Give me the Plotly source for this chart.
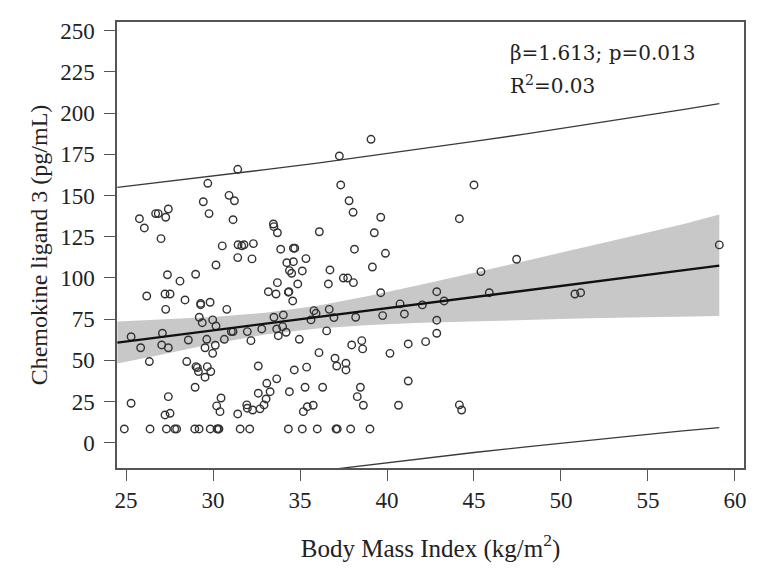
import plotly.graph_objects as go

# ---- data ----
bmi = [
    31.42, 29.70, 30.92, 31.23, 29.44, 29.77, 26.70, 26.85, 27.43, 27.28,
    25.77, 26.05, 31.15, 31.44, 31.78, 27.01, 30.53, 31.65, 32.32, 31.42,
    32.24, 30.17, 27.38, 28.10, 29.00,
    39.08, 37.26, 37.34, 37.82, 38.05, 39.64, 33.47, 33.50, 33.70, 36.11,
    39.27, 33.89, 34.62, 34.70, 35.34, 34.24, 34.62, 34.39, 34.52, 35.13,
    38.13, 39.91, 39.16, 36.72, 37.49, 37.74, 38.07, 33.70, 34.87, 36.63,
    45.00, 44.16, 59.10, 47.45, 45.40,
    42.86, 42.03, 43.28, 45.88, 50.80, 51.13, 42.86, 42.86, 42.22, 44.16, 44.29,
    26.19, 27.24, 27.53, 28.39, 29.29, 29.29, 29.83, 27.28, 30.79, 33.18,
    29.21, 29.38, 29.98, 30.17, 25.29, 27.09, 28.58, 29.64, 25.84, 27.05,
    27.43, 29.54, 30.13, 29.98, 30.65, 31.05, 31.15, 31.97, 32.18, 32.80,
    26.34, 28.49, 29.02, 29.10, 29.16, 29.67, 29.87, 29.54, 32.60, 28.97,
    27.43, 25.29, 30.46, 30.21, 30.40, 27.24, 27.53, 31.42, 31.94, 31.97,
    32.28, 32.60, 32.93, 33.05, 33.09, 32.70, 33.28,
    24.90, 26.38, 27.32, 27.80, 27.91, 28.95, 29.20, 29.84, 30.23, 30.30,
    30.34, 31.56, 32.11,
    33.62, 34.33, 34.36, 34.58, 39.64, 40.75, 41.00, 39.75, 38.20, 36.95,
    36.68, 35.80, 35.92, 35.63, 34.04, 33.50, 33.66, 34.00, 33.75, 34.20,
    34.96, 36.53, 36.09, 37.97, 38.55, 38.60, 40.17, 41.22, 37.01, 37.11,
    37.64, 37.64, 34.67, 35.38, 33.66, 34.39, 35.29, 36.30, 38.47, 41.22,
    38.29, 38.64, 40.66, 35.19, 35.42, 35.76,
    34.33, 35.13, 35.99, 37.07, 37.14, 37.91, 39.02,
]
ccl3 = [
    165.9, 157.4, 150.1, 146.8, 146.2, 139.0, 139.0, 139.0, 141.8, 136.8,
    135.9, 130.3, 135.3, 120.1, 120.1, 123.8, 119.4, 119.4, 120.8, 112.3,
    111.5, 107.8, 101.9, 98.0, 102.2,
    184.1, 174.0, 156.4, 146.8, 139.8, 136.8, 132.7, 131.1, 127.4, 128.0,
    127.4, 117.4, 118.0, 118.0, 111.7, 109.2, 109.8, 104.4, 102.8, 104.2,
    117.4, 114.9, 106.6, 104.8, 99.9, 99.9, 97.1, 97.1, 96.3, 96.3,
    156.4, 135.9, 120.0, 111.3, 103.8,
    91.6, 83.6, 86.0, 91.0, 90.2, 91.0, 74.3, 66.4, 61.3, 22.9, 19.8,
    89.0, 90.2, 90.2, 86.6, 83.7, 84.5, 85.2, 80.9, 80.9, 91.6,
    76.1, 72.8, 74.5, 70.8, 64.3, 66.4, 62.3, 62.7, 57.6, 59.3,
    57.6, 57.6, 59.1, 54.2, 62.7, 67.4, 67.4, 67.4, 61.9, 69.0,
    49.2, 49.2, 46.1, 45.5, 43.1, 46.1, 43.1, 39.7, 46.5, 33.6,
    27.9, 23.9, 27.1, 22.3, 18.8, 16.8, 17.8, 17.4, 22.9, 20.9,
    19.8, 30.0, 22.9, 26.5, 36.0, 20.5, 30.9,
    8.3, 8.3, 8.3, 8.3, 8.3, 8.3, 8.3, 8.3, 8.3, 8.3,
    8.3, 8.3, 8.3,
    90.2, 91.3, 91.6, 86.0, 91.0, 84.2, 78.1, 77.1, 76.1, 75.9,
    80.9, 80.1, 78.5, 74.5, 77.5, 76.1, 69.0, 70.4, 64.9, 67.0,
    62.7, 67.8, 54.6, 59.3, 61.9, 56.9, 54.2, 59.9, 51.2, 46.5,
    48.2, 44.1, 44.1, 45.8, 38.7, 30.9, 33.6, 33.6, 33.6, 37.4,
    27.9, 22.7, 22.7, 18.8, 21.8, 22.7,
    8.3, 8.3, 8.3, 8.3, 8.3, 8.3, 8.3,
]

# regression line, confidence band and prediction limits
fit_x = [24.5, 59.1]
fit_y = [60.7, 107.4]
band_x = [24.5, 27, 30, 33, 36, 39, 42, 45, 48, 51, 54, 57, 59.1]
band_lo = [48.0, 53.4, 60.0, 65.6, 69.3, 71.4, 72.7, 73.7, 74.5, 75.3, 75.9, 76.6, 76.8]
band_hi = [73.5, 74.8, 76.2, 78.8, 83.1, 89.2, 95.9, 103.1, 110.3, 117.7, 125.1, 132.6, 138.5]
pi_x = [24.5, 27, 30, 33, 36, 39, 42, 45, 48, 51, 54, 57, 59.1]
pi_lo = [-33.5, -29.8, -25.5, -21.3, -17.3, -13.4, -9.7, -6.0, -2.6, 0.8, 3.9, 7.1, 9.1]
pi_hi = [154.9, 158.0, 161.7, 165.7, 169.7, 174.0, 178.3, 182.8, 187.4, 192.2, 197.1, 202.1, 205.7]

x_ticks = [25, 30, 35, 40, 45, 50, 55, 60]
y_ticks = [0, 25, 50, 75, 100, 125, 150, 175, 200, 225, 250]

stats_line1 = "β=1.613; p=0.013"
stats_line2 = "R<sup>2</sup>=0.03"

fig = go.Figure()

# confidence band
fig.add_trace(go.Scatter(
    x=band_x + band_x[::-1], y=band_hi + band_lo[::-1],
    fill="toself", fillcolor="#c8c8c8", line=dict(width=0),
    mode="lines", hoverinfo="skip", showlegend=False))

# prediction limits
for ys in (pi_hi, pi_lo):
    fig.add_trace(go.Scatter(
        x=pi_x, y=ys, mode="lines", line=dict(color="#3a3a3a", width=1.3),
        showlegend=False, hoverinfo="skip"))

# points
fig.add_trace(go.Scatter(
    x=bmi, y=ccl3, mode="markers",
    marker=dict(symbol="circle-open", size=7.5, color="#333333",
                line=dict(width=1.4, color="#333333")),
    showlegend=False))

# fit line
fig.add_trace(go.Scatter(
    x=fit_x, y=fit_y, mode="lines", line=dict(color="#111111", width=2.4),
    showlegend=False))

serif = "Liberation Serif, Times New Roman, serif"

fig.add_annotation(x=46.95, y=236.5, text=stats_line1, showarrow=False,
                   xanchor="left", yanchor="middle",
                   font=dict(family="DejaVu Serif", size=20, color="#222"))
fig.add_annotation(x=46.95, y=217, text=stats_line2, showarrow=False,
                   xanchor="left", yanchor="middle",
                   font=dict(family="DejaVu Serif", size=20, color="#222"))

axis_common = dict(
    showline=True, linecolor="#555555", linewidth=1.5, mirror=True,
    ticks="outside", ticklen=11, tickwidth=1.3, tickcolor="#555555",
    showgrid=False, zeroline=False,
    tickfont=dict(family=serif, size=23, color="#222"),
)

fig.update_xaxes(range=[24.48, 60.52], tickvals=x_ticks,
                 title=dict(text="Body Mass Index (kg/m<sup>2</sup>)",
                            font=dict(family=serif, size=25, color="#222"),
                            standoff=27),
                 ticklabelstandoff=0,
                 **axis_common)
fig.update_yaxes(range=[-15.4, 255.3], tickvals=y_ticks,
                 title=dict(text="Chemokine ligand 3 (pg/mL)",
                            font=dict(family=serif, size=24, color="#222"),
                            standoff=6),
                 ticklabelstandoff=5,
                 **axis_common)

# the page adds an 8px body margin, so the figure is 8px smaller and shifted
fig.update_layout(
    width=757, height=570,
    margin=dict(l=109, r=21, t=14, b=110),
    plot_bgcolor="white", paper_bgcolor="white",
    showlegend=False,
)

fig.write_html("out.html")
